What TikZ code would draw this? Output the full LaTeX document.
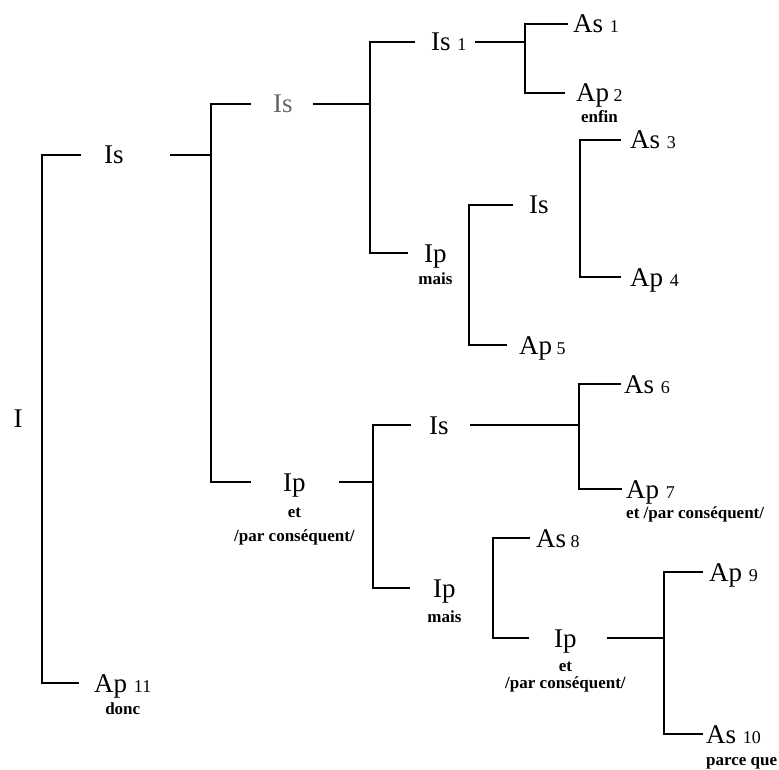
\documentclass[tikz,border=0pt]{standalone}
\usepackage{fontspec}
\setmainfont{Liberation Serif}
\usetikzlibrary{positioning}
\newcommand{\lnum}[1]{{\fontsize{18}{18}\selectfont #1}}

\begin{document}
\begin{tikzpicture}[x=1pt,y=-1pt,line width=2.4pt,node distance=8pt,
  lab/.style={inner sep=0pt,anchor=west,text height=18pt,text depth=0pt,font=\fontsize{27}{27}\selectfont},
  conj/.style={inner sep=0pt,align=center,font=\bfseries\fontsize{17}{18}\selectfont}]

  \useasboundingbox (0,0) rectangle (779,770);

  \node[lab,anchor=center] (1) at (18,418) {I};
  \node[lab] (2) at (103,155) {Is};
  \node[lab,text=black!60] (3) at (272,104) {Is};
  \node[lab] (4) at (430,42) {Is \lnum{1}};
  \node[lab] (5) at (572,24) {As \lnum{1}};
  \node[lab] (6) at (575,93) {Ap\,\lnum{2}};
  \node[lab] (7) at (423,253) {Ip};
  \node[lab] (8) at (528,205) {Is};
  \node[lab] (9) at (629,140) {As \lnum{3}};
  \node[lab] (10) at (629,277) {Ap \lnum{4}};
  \node[lab] (11) at (518,345) {Ap\,\lnum{5}};
  \node[lab] (12) at (282,482) {Ip};
  \node[lab] (13) at (428,425) {Is};
  \node[lab] (14) at (623,384) {As \lnum{6}};
  \node[lab] (15) at (625,489) {Ap \lnum{7}};
  \node[lab] (16) at (432,588) {Ip};
  \node[lab] (17) at (535,538) {As\,\lnum{8}};
  \node[lab] (18) at (553,638) {Ip};
  \node[lab] (19) at (708,572) {Ap \lnum{9}};
  \node[lab] (20) at (705,734) {As \lnum{10}};
  \node[lab] (21) at (93,683) {Ap \lnum{11}};

  \node[conj] (6a) [below=6pt of 6] {enfin};
  \node[conj] (7a) [below=of 7] {mais};
  \node[conj] (12a) [below=15pt of 12] {et\\[6pt]/par conséquent/};
  \node[conj,anchor=north west] (15a) at ([yshift=-6pt]15.south west) {et /par conséquent/};
  \node[conj] (16a) [below=11pt of 16] {mais};
  \node[conj] (18a) [below=13pt of 18] {et\\[-1pt]/par conséquent/};
  \node[conj] (20a) [below=12pt of 20,xshift=8pt] {parce que};
  \node[conj] (21a) [below=of 21] {donc};

  % bracket junctions
  \coordinate (b1) at (42,418);
  \coordinate (b2) at (211,155);
  \coordinate (b3) at (370,104);
  \coordinate (b4) at (525,42);
  \coordinate (b5) at (469,275);
  \coordinate (b6) at (580,208);
  \coordinate (b7) at (579,425);
  \coordinate (b8) at (373,482);
  \coordinate (b9) at (493,588);
  \coordinate (b10) at (664,638);

  % stubs
  \draw[shorten <=45pt] (2) -- (b2);
  \draw[shorten <=19pt] (3) -- (b3);
  \draw[shorten <=7pt] (4) -- (b4);
  \draw[shorten <=20pt] (13) -- (b7);
  \draw[shorten <=32pt] (12) -- (b8);
  \draw[shorten <=29pt] (18) -- (b10);

  % brackets
  \draw[shorten >=22pt] (b1) |- (2);
  \draw[shorten >=14pt] (b1) |- (21);
  \draw[shorten >=21pt] (b2) |- (3);
  \draw[shorten >=31pt] (b2) |- (12);
  \draw[shorten >=15pt] (b3) |- (4);
  \draw[shorten >=15pt] (b3) |- (7);
  \draw[shorten >=4pt] (b4) |- (5);
  \draw[shorten >=10pt] (b4) |- (6);
  \draw[shorten >=15pt] (b5) |- (8);
  \draw[shorten >=11pt] (b5) |- (11);
  \draw[shorten >=8pt] (b6) |- (9);
  \draw[shorten >=8pt] (b6) |- (10);
  \draw[shorten >=2pt] (b7) |- (14);
  \draw[shorten >=3pt] (b7) |- (15);
  \draw[shorten >=17pt] (b8) |- (13);
  \draw[shorten >=22pt] (b8) |- (16);
  \draw[shorten >=5pt] (b9) |- (17);
  \draw[shorten >=24pt] (b9) |- (18);
  \draw[shorten >=5pt] (b10) |- (19);
  \draw[shorten >=2pt] (b10) |- (20);
\end{tikzpicture}
\end{document}
